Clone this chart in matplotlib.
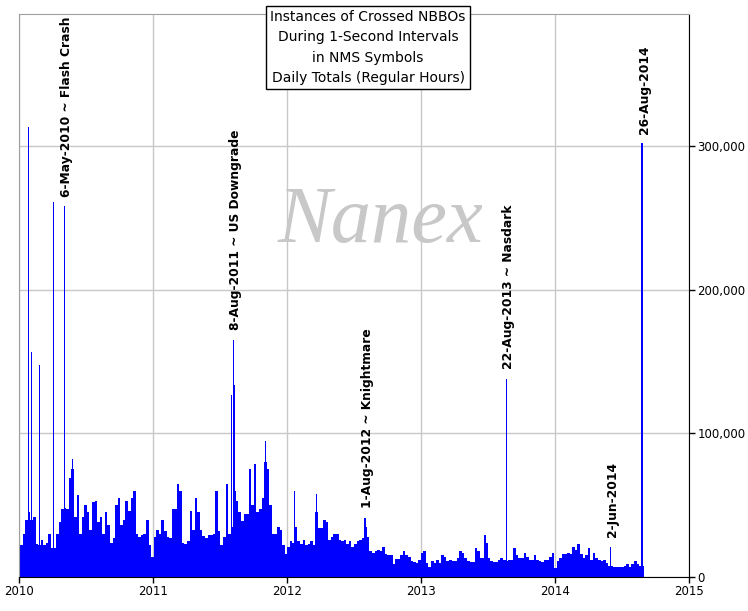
import numpy as np
import matplotlib
matplotlib.use('Agg')
import matplotlib.pyplot as plt
import matplotlib.dates as mdates
from matplotlib.ticker import FuncFormatter

# weekly level of crossed NBBO counts (thousands), weeks starting 2010-01-04
first_week = '2010-01-04'
weekly_k = [
    22, 30, 40, 45, 40, 42, 23, 22, 26, 22,
    24, 30, 20, 20, 30, 38, 47, 48, 47, 69,
    75, 42, 57, 30, 42, 50, 45, 33, 52, 53,
    38, 42, 30, 45, 36, 24, 27, 50, 55, 36,
    40, 53, 46, 55, 60, 30, 28, 29, 30, 40,
    22, 14, 28, 33, 30, 40, 32, 28, 27, 47,
    47, 65, 60, 24, 23, 25, 46, 33, 55, 45,
    33, 28.5, 27, 29, 29, 30, 60, 32, 22, 28,
    65, 30, 35, 60, 53, 45, 39, 44, 44, 75,
    50, 79, 45, 47, 55, 80, 75, 50, 30, 30,
    35, 33, 22, 16, 21, 25, 24, 35, 25, 23,
    26, 22, 23, 25, 22, 45, 34, 34, 40, 38,
    26, 28, 30, 30, 26, 25, 26, 23, 25, 21,
    23, 25, 26, 27, 35, 28, 18, 17, 18, 19,
    18, 21, 16, 15.3, 15.3, 9, 12.5, 12.5, 15, 18,
    15, 14, 11, 10.5, 9.5, 12, 17, 18, 10, 7,
    11, 9.5, 12, 10, 15.5, 14, 11, 12, 11, 11,
    13, 18, 17, 13, 11, 10.5, 10.5, 20, 18, 13.5,
    13, 24, 13.5, 11, 10.5, 10.5, 12, 13, 12, 11,
    12, 12, 20, 15, 13, 13, 17, 14, 12, 11.5,
    15, 12, 11, 10.5, 12, 12, 14, 17, 6, 11,
    13, 16, 16, 17, 16, 21, 19, 23, 16, 13,
    15, 20, 12, 17, 13, 12, 11, 12, 10, 8,
    8, 7, 7, 7, 7, 8, 9, 7, 9, 11,
    9, 8, 8,
]

# single-day spikes (thousands)
spike_days = ['2010-01-27', '2010-02-03', '2010-02-25', '2010-04-05', '2010-05-06',
              '2010-05-27', '2011-08-04', '2011-08-08', '2011-08-10', '2011-11-03',
              '2012-01-23', '2012-03-21', '2012-08-01', '2013-06-24', '2013-08-22',
              '2014-06-02', '2014-08-26']
spike_k = [313, 157, 147.5, 261, 258,
           82, 127, 165, 134, 95,
           60, 58, 41, 29, 138,
           21, 302]

note_days = ['2010-05-06', '2011-08-08', '2012-08-01', '2013-08-22', '2014-06-02', '2014-08-26']
note_text = ['6-May-2010 ~ Flash Crash', '8-Aug-2011 ~ US Downgrade', '1-Aug-2012 ~ Knightmare',
             '22-Aug-2013 ~ Nasdark', '2-Jun-2014', '26-Aug-2014']

title = 'Instances of Crossed NBBOs\nDuring 1-Second Intervals\nin NMS Symbols\nDaily Totals (Regular Hours)'

blue = '#0000ff'

weeks = np.datetime64(first_week) + np.arange(len(weekly_k)) * np.timedelta64(7, 'D')
week_vals = np.array(weekly_k) * 1000
spikes = np.array(spike_days, dtype='datetime64[D]')
spike_vals = np.array(spike_k) * 1000

fig = plt.figure(figsize=(7.48, 6.11), dpi=100)
ax = fig.add_axes([19/748, 34/611, 670/748, 563/611])

ax.bar(weeks, week_vals, width=7, align='edge', color=blue, linewidth=0, zorder=2)
ax.bar(spikes, spike_vals, width=3, color=blue, linewidth=0, zorder=2)

# labels above the marked days
lookup = dict(zip(spike_days, spike_vals))
for d, t in zip(note_days, note_text):
    ax.annotate(t, xy=(np.datetime64(d), lookup[d]), xytext=(1.5, 7), textcoords='offset points',
                rotation=90, ha='center', va='bottom', fontsize=8.8, fontweight='bold', zorder=4)

ax.text(0.54, 0.63, 'Nanex', transform=ax.transAxes, fontsize=58, family='Liberation Serif',
        style='italic', color='#c8c8c8', ha='center', va='center', zorder=1.5)

ax.set_xlim(np.datetime64('2010-01-01'), np.datetime64('2015-01-01'))
ax.set_ylim(0, 392000)
ax.xaxis.set_major_locator(mdates.YearLocator())
ax.xaxis.set_major_formatter(mdates.DateFormatter('%Y'))
ax.yaxis.tick_right()
ax.set_yticks([0, 100000, 200000, 300000])
ax.yaxis.set_major_formatter(FuncFormatter(lambda v, p: '{:,}'.format(int(v))))
ax.tick_params(direction='out', length=4, width=1, labelsize=8.5, pad=2)

ax.set_axisbelow(True)
ax.grid(True, color='#c8c8c8', linewidth=1)
ax.spines['left'].set_color('#a0a0a0')
ax.spines['top'].set_color('#a0a0a0')
ax.spines['right'].set_color('black')
ax.spines['bottom'].set_color('black')

fig.text(368/748, 1 - 47.5/611, title, ha='center', va='center', fontsize=10, linespacing=1.55,
         bbox=dict(boxstyle='square,pad=0.3', fc='white', ec='black', lw=1))

fig.savefig('out.png', dpi=100)
